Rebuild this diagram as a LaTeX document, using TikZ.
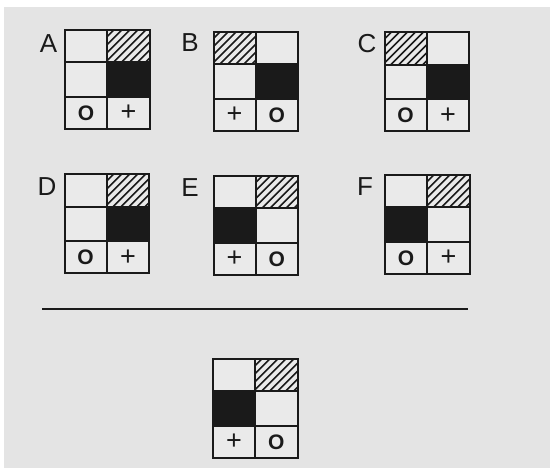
\documentclass[tikz,border=0pt]{standalone}
\usepackage{fontspec}
\setmainfont{Liberation Sans}
\definecolor{bg}{HTML}{E4E4E4}
\definecolor{cellbg}{HTML}{EAEAEA}
\definecolor{ink}{HTML}{1A1A1A}
\newcommand\symO{{\fontsize{21}{21}\bfseries\selectfont O}}
\newcommand\symP{{\fontsize{27}{27}\selectfont +}}
% #1 name, #2 left, #3 top, #4 hatch column (0/1), #5 black column (0/1), #6 left symbol, #7 right symbol
\newcommand\panelgrid[7]{%
 \begin{scope}[shift={(#2,#3)}]
  \fill[cellbg] (0,0) rectangle (84.5,99);
  \begin{scope}
   \clip (#4*42.25,0) rectangle ++(42.25,32.5);
   \foreach \i in {-42,-34,...,50} {\draw[hatchline] (#4*42.25+\i,32.5) -- ++(34,-34);}
  \end{scope}
  \fill[ink] (#5*42.25,32.5) rectangle ++(42.25,34.5);
  \draw[gridline] (0,0) rectangle (84.5,99);
  \draw[gridline] (42.25,0) -- (42.25,99);
  \draw[gridline] (0,32.5) -- (84.5,32.5);
  \draw[gridline] (0,67) -- (84.5,67);
  \node[symbol] (#1-l) at (21.1,83) {#6};
  \node[symbol] (#1-r) at (63.4,83) {#7};
 \end{scope}}
\tikzset{
 gridline/.style={draw=ink, line width=2pt, line cap=rect},
 hatchline/.style={draw=ink, line width=1.7pt},
 symbol/.style={inner sep=0pt, text=ink},
 letter/.style={inner sep=0pt, text=ink, font=\fontsize{26}{26}\selectfont},
}
\begin{document}
\begin{tikzpicture}[x=1pt,y=-1pt]
\useasboundingbox (0,0) rectangle (550,468);
\fill[white] (0,0) rectangle (550,468);
\fill[bg] (4,7) rectangle (550,468);
\panelgrid{A}{65}{30}{1}{1}{\symO}{\symP}
\panelgrid{B}{213.5}{32}{0}{1}{\symP}{\symO}
\panelgrid{C}{384.5}{32.5}{0}{1}{\symO}{\symP}
\panelgrid{D}{64.5}{174.5}{1}{1}{\symO}{\symP}
\panelgrid{E}{213.5}{176}{1}{0}{\symP}{\symO}
\panelgrid{F}{385}{175}{1}{0}{\symO}{\symP}
\panelgrid{Q}{213}{359}{1}{0}{\symP}{\symO}
\node[letter] (labA) at (48.5,44) {A};
\node[letter] (labB) at (190,43) {B};
\node[letter] (labC) at (367,44) {C};
\node[letter] (labD) at (47,187) {D};
\node[letter] (labE) at (190,188) {E};
\node[letter] (labF) at (365,187) {F};
\coordinate (divL) at (42,309.5);
\coordinate (divR) at (468,309.5);
\draw[ink, line width=2pt] (divL) -- (divR);
\end{tikzpicture}
\end{document}
